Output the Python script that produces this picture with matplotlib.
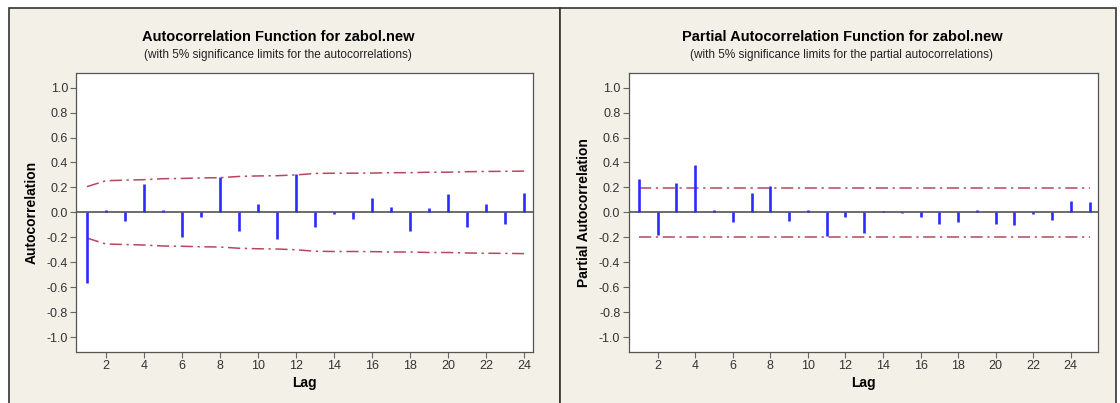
import numpy as np
import matplotlib
matplotlib.use("Agg")
import matplotlib.pyplot as plt
from matplotlib.patches import Rectangle

plt.rcParams['font.family'] = ['Liberation Sans', 'DejaVu Sans']

# ACF data (lags 1..24)
acf_lags = list(range(1, 25))
acf_vals = [-0.565, 0.02, -0.07, 0.23, 0.02, -0.195, -0.04, 0.28, -0.15, 0.067, -0.217, 0.308,
            -0.12, -0.013, -0.05, 0.112, 0.04, -0.15, 0.032, 0.145, -0.12, 0.067, -0.09, 0.158]
acf_limit = [0.206, 0.254, 0.258, 0.262, 0.270, 0.272, 0.276, 0.278, 0.288, 0.292, 0.294, 0.300,
             0.312, 0.314, 0.314, 0.315, 0.318, 0.318, 0.322, 0.322, 0.326, 0.328, 0.329, 0.331]

# PACF data (lags 1..25)
pacf_lags = list(range(1, 26))
pacf_vals = [0.268, -0.182, 0.233, 0.383, 0.02, -0.08, 0.153, 0.214, -0.072, 0.021, -0.193, -0.035,
             -0.166, 0.013, -0.005, -0.035, -0.094, -0.075, 0.021, -0.094, -0.099, -0.013, -0.059,
             0.094, 0.086]
pacf_limit = [0.198] * 25

x_ticks = list(range(2, 25, 2))
y_ticks = [-1.0, -0.8, -0.6, -0.4, -0.2, 0.0, 0.2, 0.4, 0.6, 0.8, 1.0]

W, H = 1120, 403
fig = plt.figure(figsize=(W / 100, H / 100), dpi=100)
fig.patch.set_facecolor('white')

bg = '#f3f0e7'
# panel backgrounds with frame
for x0, x1 in [(9, 560), (560, 1116)]:
    fig.patches.append(Rectangle((x0 / W, -0.05), (x1 - x0) / W, 1.05 - 8 / H,
                                 transform=fig.transFigure, facecolor=bg,
                                 edgecolor='#333333', linewidth=1.2, zorder=-5))

bar_color = '#2b2bff'
lim_color = '#b8475e'


def draw_panel(rect, lags, vals, limit, xmax, title, subtitle, ylabel, cx):
    ax = fig.add_axes(rect)
    ax.set_facecolor('white')
    ax.vlines(lags, 0, vals, color=bar_color, linewidth=1.9, zorder=3)
    ax.axhline(0, color='#444444', linewidth=1.1, zorder=2)
    ax.plot(lags, limit, color=lim_color, linestyle=(0, (8, 3, 1.5, 3)), linewidth=1.1, zorder=2)
    ax.plot(lags, [-v for v in limit], color=lim_color, linestyle=(0, (8, 3, 1.5, 3)),
            linewidth=1.1, zorder=2)
    ax.set_xlim(0.45, xmax)
    ax.set_ylim(-1.12, 1.12)
    ax.set_xticks(x_ticks)
    ax.set_yticks(y_ticks)
    ax.set_yticklabels(['%.1f' % v for v in y_ticks])
    ax.tick_params(axis='both', direction='out', length=4, width=0.8, color='#666666',
                   labelsize=9, labelcolor='#333333', pad=2)
    for s in ax.spines.values():
        s.set_color('#555555')
        s.set_linewidth(0.9)
    ax.set_xlabel('Lag', fontsize=10, fontweight='bold', labelpad=3)
    ax.set_ylabel(ylabel, fontsize=10, fontweight='bold', labelpad=6)
    fig.text(cx, 1 - 37 / H, title, ha='center', va='center', fontsize=10.5, fontweight='bold')
    fig.text(cx, 1 - 55 / H, subtitle, ha='center', va='center', fontsize=8.5, color='#222222')
    return ax


draw_panel([76.5 / W, 1 - 352 / H, (532.7 - 76.5) / W, (352 - 72.7) / H],
           acf_lags, acf_vals, acf_limit, 24.45,
           'Autocorrelation Function for zabol.new',
           '(with 5% significance limits for the autocorrelations)',
           'Autocorrelation', 278 / W)

draw_panel([628.6 / W, 1 - 352 / H, (1098 - 628.6) / W, (352 - 72.7) / H],
           pacf_lags, pacf_vals, pacf_limit, 25.45,
           'Partial Autocorrelation Function for zabol.new',
           '(with 5% significance limits for the partial autocorrelations)',
           'Partial Autocorrelation', 842 / W)

fig.savefig('out.png', dpi=100, facecolor=fig.get_facecolor())
